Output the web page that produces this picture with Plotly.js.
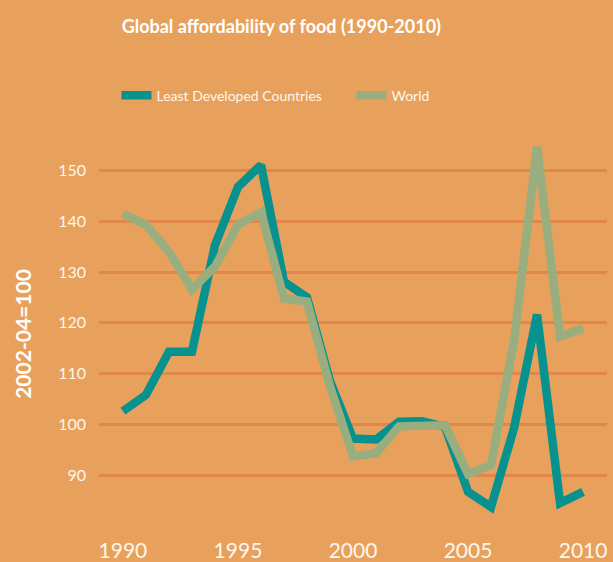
<!DOCTYPE html>
<html>
<head>
<meta charset="utf-8">
<script src="https://cdn.plot.ly/plotly-3.0.1.min.js"></script>
<style>html,body{margin:0;padding:0;background:#E8A15C;}</style>
</head>
<body>
<div id="chart" style="width:613px;height:562px;"></div>
<script>
var years = [1990,1991,1992,1993,1994,1995,1996,1997,1998,1999,2000,2001,2002,2003,2004,2005,2006,2007,2008,2009,2010];
var ldc   = [102.6,105.8,114.3,114.3,135.3,146.8,151.1,128.1,125.0,108.5,97.2,97.0,100.5,100.6,99.5,86.7,83.7,99.3,121.6,84.5,86.7];
var world = [141.5,139.3,134.0,126.6,131.1,139.3,141.8,124.8,124.2,107.5,93.7,94.3,99.6,99.8,99.8,90.2,92.0,116.5,154.7,117.3,118.9];
var seriesNames = ['Least Developed Countries','World'];
var xTicks = [1990,1995,2000,2005,2010];
var yTicks = [90,100,110,120,130,140,150];

var FONT = 'Lato, sans-serif';
var traces = [
  {x: years, y: ldc, name: seriesNames[0], type: 'scatter', mode: 'lines',
   line: {color: '#079290', width: 8.5}},
  {x: years, y: world, name: seriesNames[1], type: 'scatter', mode: 'lines',
   line: {color: '#98AE7E', width: 8.5}}
];
var layout = {
  width: 613, height: 562,
  paper_bgcolor: '#E8A15C', plot_bgcolor: '#E8A15C',
  margin: {l: 99, r: 6, t: 130, b: 24},
  font: {family: FONT, color: '#FFFFFF'},
  title: {text: 'Global affordability of food (1990-2010)', x: 0.459, xanchor: 'center',
          y: 0.953, yanchor: 'middle', font: {size: 18, weight: 'bold', color: '#FFFFFF', family: FONT}},
  showlegend: true,
  legend: {orientation: 'h', xref: 'container', yref: 'container', x: 0.19, xanchor: 'left',
           y: 0.83, yanchor: 'middle', font: {size: 14, color: '#FFF6EC', family: FONT},
           bgcolor: 'rgba(0,0,0,0)', entrywidth: 190, itemwidth: 30},
  xaxis: {range: [1988.96, 2011.04], tickvals: xTicks, ticktext: xTicks.map(String),
          showgrid: false, zeroline: false, showline: false, ticks: '', ticklabelstandoff: -2,
          tickfont: {size: 21, color: '#FFF6EC', family: FONT}},
  yaxis: {range: [77.6, 158], tickvals: yTicks, showgrid: true, gridcolor: '#E0884A', gridwidth: 3,
          zeroline: false, showline: false, ticks: '', ticklabelstandoff: 12,
          tickfont: {size: 16, color: '#FFF6EC', family: FONT},
          title: {text: '2002-04=100\u00A0\u00A0\u00A0\u00A0', standoff: 20, font: {size: 21, weight: 'bold', color: '#FFFFFF', family: FONT}}}
};
Plotly.newPlot('chart', traces, layout, {displayModeBar: false});
</script>
</body>
</html>
